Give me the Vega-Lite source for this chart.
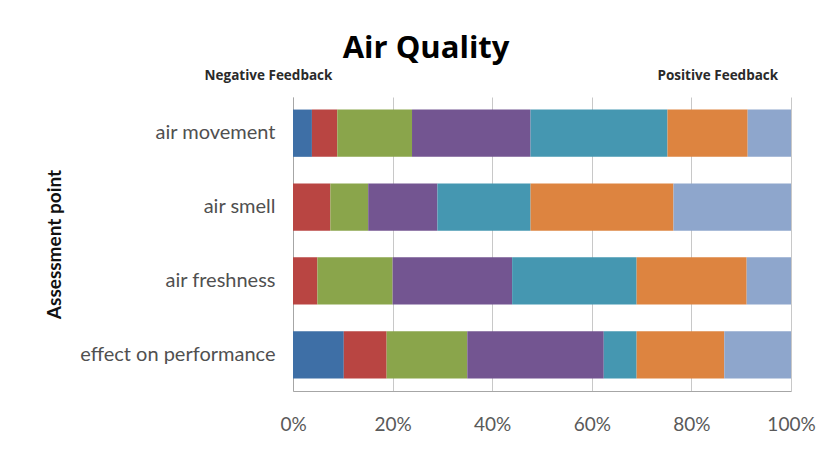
{
  "$schema": "https://vega.github.io/schema/vega-lite/v6.json",
  "width": 498,
  "height": 294,
  "autosize": "none",
  "padding": {"left": 293, "top": 97, "right": 37, "bottom": 64},
  "background": "white",
  "title": {
    "text": "Air Quality",
    "font": "Open Sans",
    "fontSize": 31,
    "fontWeight": "bold",
    "color": "#000000",
    "anchor": "middle",
    "frame": "bounds",
    "offset": 3,
    "dx": -4
  },
  "config": {
    "font": "Lato",
    "view": {"stroke": null}
  },
  "data": {
    "values": [
      {"point": "air movement", "level": "L1", "ord": 1, "share": 3.8},
      {"point": "air movement", "level": "L2", "ord": 2, "share": 5.1},
      {"point": "air movement", "level": "L3", "ord": 3, "share": 15.0},
      {"point": "air movement", "level": "L4", "ord": 4, "share": 23.8},
      {"point": "air movement", "level": "L5", "ord": 5, "share": 27.5},
      {"point": "air movement", "level": "L6", "ord": 6, "share": 16.1},
      {"point": "air movement", "level": "L7", "ord": 7, "share": 8.7},
      {"point": "air smell", "level": "L1", "ord": 1, "share": 0},
      {"point": "air smell", "level": "L2", "ord": 2, "share": 7.5},
      {"point": "air smell", "level": "L3", "ord": 3, "share": 7.6},
      {"point": "air smell", "level": "L4", "ord": 4, "share": 13.9},
      {"point": "air smell", "level": "L5", "ord": 5, "share": 18.7},
      {"point": "air smell", "level": "L6", "ord": 6, "share": 28.7},
      {"point": "air smell", "level": "L7", "ord": 7, "share": 23.6},
      {"point": "air freshness", "level": "L1", "ord": 1, "share": 0},
      {"point": "air freshness", "level": "L2", "ord": 2, "share": 4.9},
      {"point": "air freshness", "level": "L3", "ord": 3, "share": 15.1},
      {"point": "air freshness", "level": "L4", "ord": 4, "share": 24.0},
      {"point": "air freshness", "level": "L5", "ord": 5, "share": 25.0},
      {"point": "air freshness", "level": "L6", "ord": 6, "share": 22.1},
      {"point": "air freshness", "level": "L7", "ord": 7, "share": 8.9},
      {"point": "effect on performance", "level": "L1", "ord": 1, "share": 10.2},
      {"point": "effect on performance", "level": "L2", "ord": 2, "share": 8.6},
      {"point": "effect on performance", "level": "L3", "ord": 3, "share": 16.2},
      {"point": "effect on performance", "level": "L4", "ord": 4, "share": 27.4},
      {"point": "effect on performance", "level": "L5", "ord": 5, "share": 6.6},
      {"point": "effect on performance", "level": "L6", "ord": 6, "share": 17.6},
      {"point": "effect on performance", "level": "L7", "ord": 7, "share": 13.4}
    ]
  },
  "encoding": {
    "y": {
      "field": "point",
      "type": "nominal",
      "sort": ["air movement", "air smell", "air freshness", "effect on performance"],
      "scale": {"paddingInner": 0.36, "paddingOuter": 0.17},
      "axis": {
        "title": "Assessment point",
        "titleFontSize": 19,
        "titleFontWeight": "bold",
        "titleColor": "#111111",
        "titlePadding": 29,
        "labelFontSize": 20,
        "labelLimit": 400,
        "labelColor": "#505050",
        "labelPadding": 18,
        "ticks": false,
        "domain": true,
        "domainColor": "#a6a6a6"
      }
    },
    "color": {
      "field": "level",
      "type": "nominal",
      "legend": null,
      "scale": {
        "domain": ["L1", "L2", "L3", "L4", "L5", "L6", "L7"],
        "range": ["#3e6fa6", "#b94542", "#8aa54b", "#735591", "#4597b1", "#dd8440", "#8ea6cc"]
      }
    },
    "order": {"field": "ord", "type": "quantitative", "sort": "ascending"}
  },
  "layer": [
    {
      "mark": {"type": "bar"},
      "encoding": {
        "x": {
          "field": "share",
          "type": "quantitative",
          "stack": "normalize",
          "scale": {"domain": [0, 1], "nice": false},
          "axis": {
            "orient": "bottom",
            "title": null,
            "format": "%",
            "values": [0, 0.2, 0.4, 0.6, 0.8, 1],
            "labelFlush": false,
            "labelFontSize": 19,
            "labelColor": "#595959",
            "labelPadding": 24,
            "ticks": false,
            "domain": true,
            "domainColor": "#a6a6a6",
            "grid": true,
            "gridColor": "#c8c8c8"
          }
        }
      }
    },
    {
      "mark": {"type": "bar", "opacity": 0},
      "encoding": {
        "x": {
          "field": "share",
          "type": "quantitative",
          "stack": "normalize",
          "axis": {
            "orient": "top",
            "title": null,
            "values": [0, 0.852],
            "labelExpr": "datum.value < 0.5 ? 'Negative Feedback' : 'Positive Feedback'",
            "labelOffset": {"condition": {"test": "datum.value < 0.5", "value": -25}, "value": 0},
            "labelFlush": false,
            "labelOverlap": false,
            "labelBound": false,
            "labelFont": "Open Sans",
            "labelFontSize": 13.5,
            "labelFontWeight": "bold",
            "labelColor": "#2a2a2a",
            "labelPadding": 15,
            "ticks": false,
            "domain": false,
            "grid": false
          }
        }
      }
    }
  ],
  "resolve": {"axis": {"x": "independent"}}
}
